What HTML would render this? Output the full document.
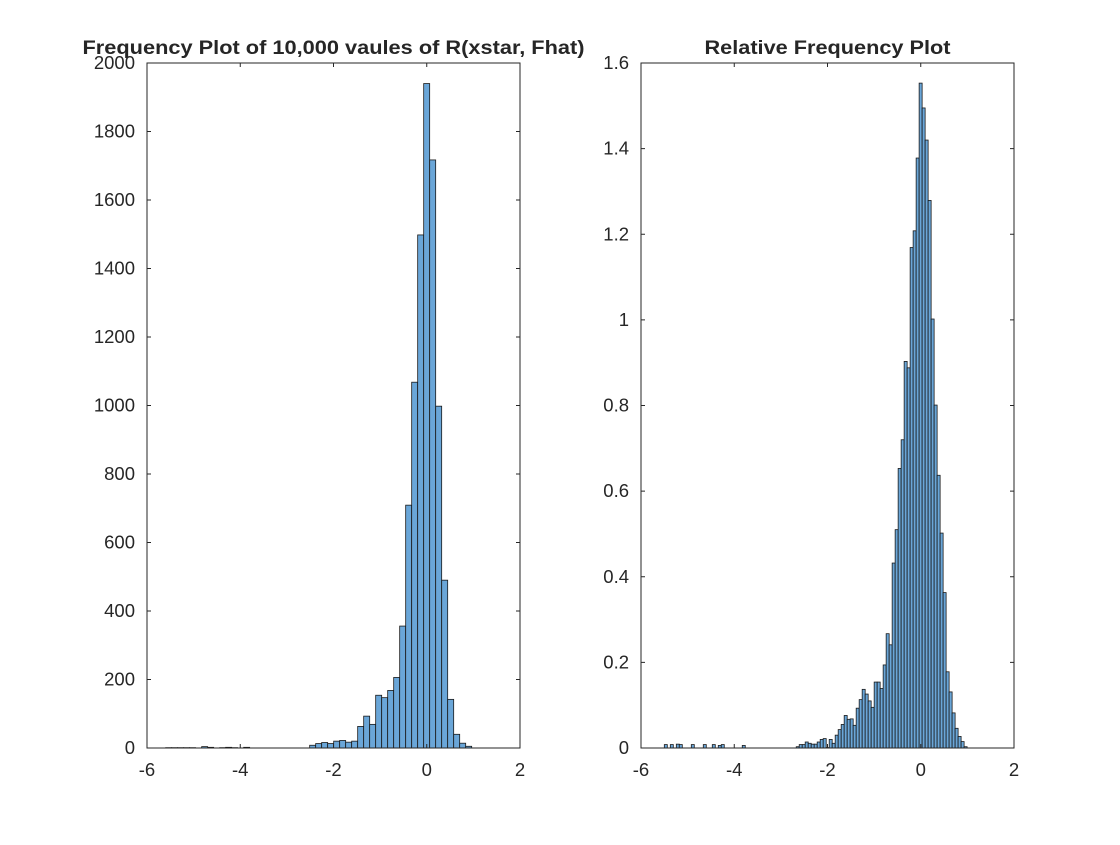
<!DOCTYPE html>
<html><head><meta charset="utf-8"><style>
body{margin:0;background:#fff;}
svg text{font-family:"Liberation Sans",sans-serif;fill:#262626;}
</style></head><body>
<svg id="c" width="1120" height="840" xmlns="http://www.w3.org/2000/svg"></svg>
<script>
// Left chart data (counts)
const leftStart = -5.6;
const leftWidth = 0.1287;
const leftTail = [1,1,1,1,1,0,4,2,0,1,2,1,0,2,0,0,0,0,0,0,0,0,0,0];
const leftMain = [8,13,16,13,20,22,17,20,63,93,69,154,147,168,206,356,709,1068,1498,1940,1717,998,490,142,40,14,5];
const leftYTicks = [0,200,400,600,800,1000,1200,1400,1600,1800,2000];
// Right chart data (relative frequency)
const rightStart = -5.50;
const rightWidth = 0.0643;
const rightTail = [0.008,0,0.008,0,0.009,0.008,0,0,0,0.008,0,0,0,0.008,0,0,0.008,0,0.006,0.008,0,0,0,0,0,0,0.006,0,0,0,0,0,0,0,0,0,0,0,0,0,0,0,0,0];
const rightMain = [0.003,0.008,0.008,0.014,0.011,0.009,0.009,0.014,0.02,0.022,0.001,0.02,0.011,0.03,0.043,0.055,0.076,0.067,0.068,0.053,0.093,0.113,0.137,0.126,0.11,0.095,0.154,0.154,0.139,0.194,0.267,0.241,0.432,0.51,0.653,0.72,0.903,0.888,1.169,1.208,1.378,1.553,1.495,1.42,1.279,1.002,0.801,0.637,0.502,0.363,0.178,0.131,0.082,0.046,0.027,0.015,0.003];
const rightYTicks = [0,0.2,0.4,0.6,0.8,1,1.2,1.4,1.6];
const xTicks = [-6,-4,-2,0,2];

const svg = document.getElementById('c');
const NS = 'http://www.w3.org/2000/svg';
function mk(tag, attrs, parent){const e=document.createElementNS(NS,tag);for(const k in attrs)e.setAttribute(k,attrs[k]);(parent||svg).appendChild(e);return e;}

function drawPanel(name, x0, x1, y0, y1, yMax, yTicks, start, width, values, title, titleLen){
  const g = mk('g',{});
  
  
  const sx = v => x0 + (v + 6) / 8 * (x1 - x0);
  const sy = v => y1 - v / yMax * (y1 - y0);
  values.forEach((v,i)=>{
    if(v<=0) return;
    const a = sx(start + i*width), b = sx(start + (i+1)*width);
    const r = mk('rect',{x:a,y:sy(v),width:b-a,height:sy(0)-sy(v),fill:'#6aa6d8',stroke:'#1a1a1a','stroke-width':0.8},g);
    
    
  });
  const box = mk('rect',{x:x0,y:y0,width:x1-x0,height:y1-y0,fill:'none',stroke:'#262626','stroke-width':1},g);
  
  
  xTicks.forEach(t=>{
    const x=sx(t);
    mk('line',{x1:x,x2:x,y1:y1,y2:y1-4,stroke:'#262626'},g);
    mk('line',{x1:x,x2:x,y1:y0,y2:y0+4,stroke:'#262626'},g);
    const tx = mk('text',{x:x,y:y1+28,'font-size':18.5,'text-anchor':'middle'},g);
    tx.textContent = t;
    
    
  });
  yTicks.forEach(t=>{
    const y=sy(t);
    mk('line',{x1:x0,x2:x0+4,y1:y,y2:y,stroke:'#262626'},g);
    mk('line',{x1:x1,x2:x1-4,y1:y,y2:y,stroke:'#262626'},g);
    const tx = mk('text',{x:x0-12,y:y+6,'font-size':18.5,'text-anchor':'end'},g);
    tx.textContent = t;
    
    
  });
  const tt = mk('text',{x:(x0+x1)/2,y:y0-9,'font-size':19.5,'font-weight':'bold','text-anchor':'middle',fill:'#000',textLength:titleLen,lengthAdjust:'spacingAndGlyphs'},g);
  tt.textContent = title;
  
  
}
drawPanel('frequency-plot',147,520,63,748,2000,leftYTicks,leftStart,leftWidth,leftTail.concat(leftMain),'Frequency Plot of 10,000 vaules of R(xstar, Fhat)',502);
drawPanel('relative-frequency-plot',641,1014,63,748,1.6,rightYTicks,rightStart,rightWidth,rightTail.concat(rightMain),'Relative Frequency Plot',246);
</script>
</body></html>
